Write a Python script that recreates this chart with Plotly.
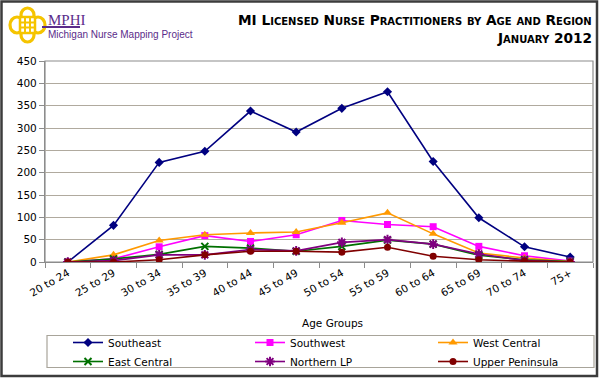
import plotly.graph_objects as go

categories = ["20 to 24", "25 to 29", "30 to 34", "35 to 39", "40 to 44", "45 to 49",
              "50 to 54", "55 to 59", "60 to 64", "65 to 69", "70 to 74", "75+"]
southeast = [0, 82, 223, 248, 338, 291, 344, 381, 225, 99, 34, 11]
southwest = [0, 7, 34, 59, 46, 61, 93, 84, 79, 35, 14, 2]
west_central = [0, 16, 48, 61, 65, 67, 88, 110, 63, 20, 9, 1]
east_central = [0, 7, 17, 35, 31, 24, 35, 49, 40, 15, 5, 1]
northern_lp = [0, 3, 16, 16, 28, 25, 44, 50, 40, 18, 3, 0]
upper_peninsula = [0, 0, 5, 16, 24, 24, 22, 33, 13, 5, 2, 0]
y_ticks = [0, 50, 100, 150, 200, 250, 300, 350, 400, 450]

FONT = "DejaVu Sans"
W, H = 600, 378
L, R, T, B = 45, 7, 61, 116
PW, PH = W - L - R, H - T - B


def px(x):
    return (x - L) / PW


def py(y):
    return (H - B - y) / PH


series = [
    ("Southeast", southeast, "#000080", "diamond", 7, "legend"),
    ("Southwest", southwest, "#FF00FF", "square", 7, "legend2"),
    ("West Central", west_central, "#FF9900", "triangle-up", 8, "legend3"),
    ("East Central", east_central, "#007000", "x-thin-open", 7, "legend"),
    ("Northern LP", northern_lp, "#800080", "asterisk-open", 8, "legend2"),
    ("Upper Peninsula", upper_peninsula, "#800000", "circle", 7, "legend3"),
]

fig = go.Figure()
for name, vals, color, sym, size, leg in series:
    fig.add_trace(go.Scatter(
        x=categories, y=vals, name=name, mode="lines+markers", legend=leg,
        line=dict(color=color, width=1.6),
        marker=dict(symbol=sym, size=size, color=color,
                    line=dict(color=color, width=2 if "open" in sym else 0)),
    ))

shapes = [
    dict(type="rect", xref="paper", yref="paper", x0=px(1.5), x1=px(597), y0=py(376), y1=py(1.5),
         line=dict(color="#3c3c3c", width=2.5), layer="below"),
    dict(type="rect", xref="paper", yref="paper", x0=px(47), x1=px(594), y0=py(367.5), y1=py(335.5),
         line=dict(color="#a8a49a", width=1.2)),
    dict(type="rect", xref="paper", yref="paper", x0=0, x1=1, y0=0, y1=1,
         line=dict(color="#8c8c8c", width=1.2), layer="below"),
    dict(type="circle", xref="paper", yref="paper", x0=px(10), x1=px(24), y0=py(33), y1=py(17),
         line=dict(color="#F5C400", width=3.2)),
    dict(type="circle", xref="paper", yref="paper", x0=px(31), x1=px(45), y0=py(33), y1=py(17),
         line=dict(color="#F5C400", width=3.2)),
    dict(type="circle", xref="paper", yref="paper", x0=px(21), x1=px(34), y0=py(22), y1=py(8),
         line=dict(color="#F5C400", width=3.2)),
    dict(type="circle", xref="paper", yref="paper", x0=px(21), x1=px(34), y0=py(42), y1=py(28),
         line=dict(color="#F5C400", width=3.2)),
    dict(type="rect", xref="paper", yref="paper", x0=px(20), x1=px(35), y0=py(33), y1=py(17),
         line=dict(color="#F5C400", width=2.5), fillcolor="white"),
    dict(type="line", xref="paper", yref="paper", x0=px(25), x1=px(25), y0=py(33), y1=py(17),
         line=dict(color="#F5C400", width=2)),
    dict(type="line", xref="paper", yref="paper", x0=px(30), x1=px(30), y0=py(33), y1=py(17),
         line=dict(color="#F5C400", width=2)),
    dict(type="line", xref="paper", yref="paper", x0=px(20), x1=px(35), y0=py(22.5), y1=py(22.5),
         line=dict(color="#F5C400", width=2)),
    dict(type="line", xref="paper", yref="paper", x0=px(20), x1=px(35), y0=py(27.5), y1=py(27.5),
         line=dict(color="#F5C400", width=2)),
    dict(type="line", xref="paper", yref="paper", x0=px(42), x1=px(80), y0=py(27), y1=py(27),
         line=dict(color="#5B2C8A", width=1.8)),
]

annotations = [
    dict(text="<b>MI Licensed Nurse Practitioners by Age and Region</b>", xref="paper", yref="paper",
         x=px(594), y=py(20), xanchor="right", yanchor="middle", showarrow=False,
         font=dict(family=FONT, size=13.7, color="#000000", variant="small-caps")),
    dict(text="<b>January 2012</b>", xref="paper", yref="paper",
         x=px(594), y=py(38), xanchor="right", yanchor="middle", showarrow=False,
         font=dict(family=FONT, size=13.7, color="#000000", variant="small-caps")),
    dict(text="MPHI", xref="paper", yref="paper", x=px(46), y=py(20), xanchor="left", yanchor="middle",
         showarrow=False, font=dict(family="Liberation Serif", size=15, color="#5B2C8A")),
    dict(text="Michigan Nurse Mapping Project", xref="paper", yref="paper", x=px(46), y=py(35),
         xanchor="left", yanchor="middle", showarrow=False,
         font=dict(family="Liberation Sans", size=10, color="#5B2C8A")),
    dict(text="Age Groups", xref="paper", yref="paper", x=px(332), y=py(323), xanchor="center",
         yanchor="middle", showarrow=False, font=dict(family=FONT, size=10.5, color="#000000")),
]


def leg(xtext):
    return dict(orientation="v", xref="container", yref="container",
                x=(xtext - 40) / W, y=1 - 328 / H, xanchor="left", yanchor="top",
                borderwidth=0, bgcolor="rgba(0,0,0,0)", font=dict(family=FONT, size=10.5),
                itemwidth=30, tracegroupgap=0)


fig.update_layout(
    width=W, height=H,
    margin=dict(l=L, r=R, t=T, b=B, autoexpand=False),
    paper_bgcolor="white", plot_bgcolor="white",
    font=dict(family=FONT, size=10.5, color="#000000"),
    showlegend=True,
    legend=leg(108), legend2=leg(290), legend3=leg(473),
    xaxis=dict(type="category", categoryorder="array", categoryarray=categories,
               range=[-0.5, len(categories) - 0.5], tickangle=-30,
               tickson="boundaries", ticks="outside", ticklen=5, tickcolor="#8c8c8c",
               showline=True, linecolor="#8c8c8c", linewidth=1.2, showgrid=False,
               tickfont=dict(family=FONT, size=10.5), fixedrange=True),
    yaxis=dict(range=[0, 450], tickvals=y_ticks, ticks="outside", ticklen=5, tickcolor="#8c8c8c",
               showline=True, linecolor="#8c8c8c", linewidth=1.2, showgrid=True,
               gridcolor="#b0aa9e", gridwidth=1, zeroline=False,
               tickfont=dict(family=FONT, size=10.5), fixedrange=True),
    shapes=shapes, annotations=annotations,
)

fig.write_html("out.html", config={"displayModeBar": False},
               post_script="document.body.style.margin='0';document.body.style.overflow='hidden';")
